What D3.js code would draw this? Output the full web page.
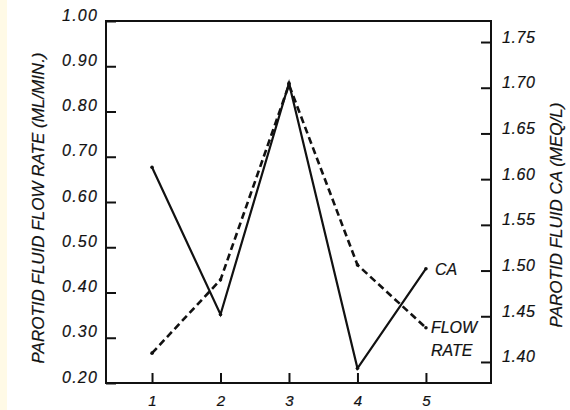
<!DOCTYPE html>
<html><head><meta charset="utf-8">
<script src="https://cdn.jsdelivr.net/npm/d3@7"></script>
<style>
html,body{margin:0;padding:0;background:#fff;}
svg text{font-family:"Liberation Sans",Arial,sans-serif;font-style:italic;fill:#111;stroke:#111;stroke-width:0.2px;}
</style></head>
<body>
<svg id="c" width="570" height="410"></svg>
<script>
const xCategories = [1, 2, 3, 4, 5];
const flowRate = [0.266, 0.428, 0.859, 0.461, 0.322];
const caValues = [1.613, 1.452, 1.705, 1.393, 1.502];
const leftTicks = [0.20, 0.30, 0.40, 0.50, 0.60, 0.70, 0.80, 0.90, 1.00];
const rightTicks = [1.40, 1.45, 1.50, 1.55, 1.60, 1.65, 1.70, 1.75];

const svg = d3.select("#c");
svg.append("rect").attr("x",0).attr("y",0).attr("width",7).attr("height",410).attr("fill","#fffae6");

const L = 106, R = 491, T = 21, B = 383;
const x = d3.scaleLinear().domain([0.328, 5.95]).range([L, R]);
const yL = d3.scaleLinear().domain([0.20, 1.00]).range([B, T]);
const yR = d3.scaleLinear().domain([1.377, 1.773]).range([B, T]);

// frame
svg.append("rect").attr("x",L).attr("y",T).attr("width",R-L).attr("height",B-T)
  .attr("fill","none").attr("stroke","#111").attr("stroke-width",2);

// left axis
const gL = svg.append("g").attr("transform",`translate(${L},0)`)
  .call(d3.axisRight(yL).tickValues(leftTicks).tickSize(10).tickFormat(d3.format(".2f")));
gL.select(".domain").remove();
gL.selectAll("line").attr("stroke","#111").attr("stroke-width",2);
gL.selectAll("text").attr("x",-8).attr("dy","-0.05em").attr("text-anchor","end")
  .style("font-size","16px").style("letter-spacing","1.2px");

// right axis
const gR = svg.append("g").attr("transform",`translate(${R},0)`)
  .call(d3.axisLeft(yR).tickValues(rightTicks).tickSize(10).tickFormat(d3.format(".2f")));
gR.select(".domain").remove();
gR.selectAll("line").attr("stroke","#111").attr("stroke-width",2);
gR.selectAll("text").attr("x",11).attr("dy","0.0em").attr("text-anchor","start")
  .style("font-size","16px").style("letter-spacing","0.6px");

// bottom axis
const gB = svg.append("g").attr("transform",`translate(0,${B})`)
  .call(d3.axisTop(x).tickValues(xCategories).tickSize(10).tickFormat(d3.format("d")));
gB.select(".domain").remove();
gB.selectAll("line").attr("stroke","#111").attr("stroke-width",2);
gB.selectAll("text").attr("y",23).attr("dy","0").attr("text-anchor","middle")
  .style("font-size","15px");

// lines
const flowLine = d3.line().x((d,i)=>x(xCategories[i])).y(d=>yL(d));
const caLine = d3.line().x((d,i)=>x(xCategories[i])).y(d=>yR(d));
svg.append("path").datum(flowRate).attr("d",flowLine).attr("fill","none")
  .attr("stroke","#111").attr("stroke-width",2.6).attr("stroke-dasharray","7,4");
svg.append("path").datum(caValues).attr("d",caLine).attr("fill","none")
  .attr("stroke","#111").attr("stroke-width",2.2);
svg.selectAll(".dotc").data(caValues).enter().append("circle")
  .attr("cx",(d,i)=>x(xCategories[i])).attr("cy",d=>yR(d)).attr("r",1.8).attr("fill","#111");
svg.selectAll(".dotf").data(flowRate).enter().append("circle")
  .attr("cx",(d,i)=>x(xCategories[i])).attr("cy",d=>yL(d)).attr("r",1.8).attr("fill","#111");

// series labels
const last = xCategories.length - 1;
svg.append("text").attr("x",x(xCategories[last])+9).attr("y",yR(caValues[last])+6)
  .style("font-size","16px").text("CA");
svg.append("text").attr("x",x(xCategories[last])+5).attr("y",yL(flowRate[last])+5)
  .style("font-size","16px").text("FLOW");
svg.append("text").attr("x",x(xCategories[last])+5).attr("y",yL(flowRate[last])+28)
  .style("font-size","16px").text("RATE");

// axis titles
svg.append("text").attr("transform","translate(44,208) rotate(-90)").attr("text-anchor","middle")
  .style("font-size","17px").text("PAROTID FLUID FLOW RATE (ML/MIN.)");
svg.append("text").attr("transform","translate(562,215) rotate(-90)").attr("text-anchor","middle")
  .style("font-size","17px").text("PAROTID FLUID CA (MEQ/L)");
</script>
</body></html>
